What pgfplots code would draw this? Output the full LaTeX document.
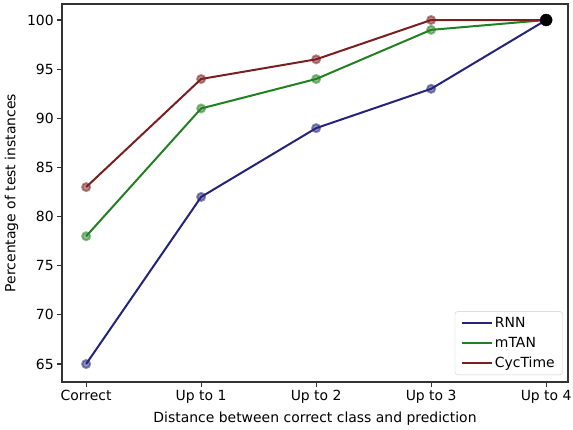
\documentclass[border=0pt]{standalone}
\usepackage{fontspec}
\setmainfont{DejaVu Sans}
\usepackage{pgfplots}
\pgfplotsset{compat=1.18}
\definecolor{rnn}{RGB}{36,36,122}
\definecolor{mtan}{RGB}{34,128,34}
\definecolor{cyc}{RGB}{122,30,32}
\newcommand{\mplfont}{\fontsize{14}{16.5}\selectfont}
\begin{document}
\begin{tikzpicture}
\begin{axis}[
    scale only axis,
    width=506bp, height=378bp,
    xmin=-0.21, xmax=4.19,
    ymin=63.17, ymax=101.63,
    xtick={0,1,2,3,4},
    xticklabels={Correct,Up to 1,Up to 2,Up to 3,Up to 4},
    ytick={65,70,75,80,85,90,95,100},
    tick align=outside,
    tick pos=left,
    major tick length=4.8bp,
    tick style={black!80, line width=1.1bp},
    axis line style={black!80, line width=1.1bp},
    /pgf/number format/assume math mode=true,
    ticklabel style={font=\mplfont},
    label style={font=\mplfont},
    xlabel={Distance between correct class and prediction},
    ylabel={Percentage of test instances},
    xlabel style={yshift=-1bp},
    ylabel style={yshift=2bp},
    legend cell align=left,
    legend style={font=\mplfont, draw=black!20, rounded corners=3bp,
        inner xsep=6bp, inner ysep=4bp, row sep=4bp,
        at={(0.99,0.0185)}, anchor=south east},
    legend image code/.code={\draw[#1, line width=2bp] (0bp,0bp) -- (30bp,0bp);},
]
\addplot[rnn, line width=2bp, mark=*, mark size=4bp,
    mark options={fill opacity=0.5, draw opacity=0.5}]
  coordinates {(0,65) (1,82) (2,89) (3,93) (4,100)};
\addlegendentry{RNN}
\addplot[mtan, line width=2bp, mark=*, mark size=4bp,
    mark options={fill opacity=0.5, draw opacity=0.5}]
  coordinates {(0,78) (1,91) (2,94) (3,99) (4,100)};
\addlegendentry{mTAN}
\addplot[cyc, line width=2bp, mark=*, mark size=4bp,
    mark options={fill opacity=0.5, draw opacity=0.5}]
  coordinates {(0,83) (1,94) (2,96) (3,100) (4,100)};
\addlegendentry{CycTime}
\addplot[only marks, black, mark=*, mark size=6bp, forget plot]
  coordinates {(4,100)};
\end{axis}
\pgfresetboundingbox
\path[use as bounding box] ([shift={(-62bp,-48bp)}]current axis.south west)
    rectangle ([shift={(5bp,4bp)}]current axis.north east);
\end{tikzpicture}
\end{document}
